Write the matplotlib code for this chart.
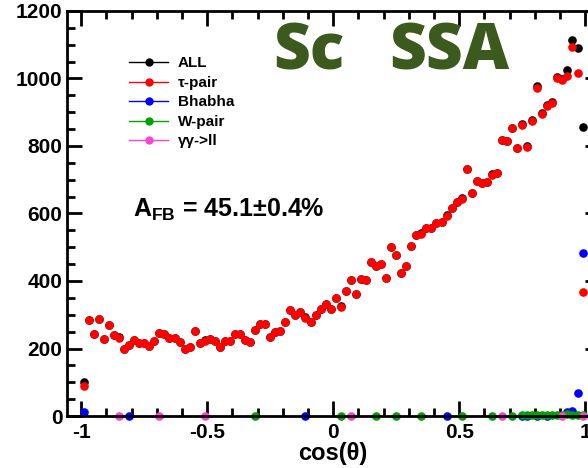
import numpy as np
import matplotlib
matplotlib.use("Agg")
import matplotlib.pyplot as plt
from matplotlib.lines import Line2D
from matplotlib.ticker import MultipleLocator

plt.rcParams['font.family'] = ['Liberation Sans', 'DejaVu Sans']
plt.rcParams['font.weight'] = 'bold'
plt.rcParams['mathtext.fontset'] = 'custom'
plt.rcParams['mathtext.rm'] = 'Liberation Sans:bold'
plt.rcParams['mathtext.bf'] = 'Liberation Sans:bold'

# 100 bins in cos(theta), width 0.02
bin_centers = np.arange(-0.99, 1.0, 0.02)

tau_counts = [
    90, 283, 242, 288, 229, 269, 240, 232, 198, 209,
    225, 217, 216, 207, 221, 245, 244, 230, 232, 218,
    198, 203, 253, 216, 223, 228, 221, 204, 222, 222,
    242, 244, 225, 218, 255, 272, 272, 234, 249, 253,
    278, 313, 298, 309, 291, 278, 299, 318, 333, 316,
    350, 324, 370, 402, 362, 407, 402, 455, 443, 451,
    410, 500, 476, 423, 443, 505, 537, 540, 556, 556,
    571, 576, 594, 617, 635, 644, 732, 662, 696, 691,
    693, 715, 719, 817, 815, 852, 795, 862, 797, 874,
    973, 896, 918, 928, 1000, 995, 1007, 1094, 1017, 367,
]

# background channels: only the filled bins
bhabha_bins = [0, 9, 44, 72, 87, 88, 90, 92, 96, 97, 98, 99]
bhabha_counts = [11, 1, 1, 1, 1, 1, 1, 1, 12, 15, 68, 484]

wpair_bins = [34, 51, 58, 62, 67, 75, 81, 85, 87, 88, 89, 90, 91, 92, 93, 94, 95, 96, 97, 98, 99]
wpair_counts = [1, 1, 1, 1, 1, 1, 1, 1, 2, 2, 2, 3, 2, 3, 3, 4, 3, 5, 4, 4, 3]

gg_bins = [7, 15, 24, 53, 83, 95, 99]
gg_counts = [1, 1, 1, 1, 1, 1, 1]


def fill(bins, counts):
    h = np.zeros(len(bin_centers))
    h[bins] = counts
    return h


tau = np.array(tau_counts, dtype=float)
bhabha = fill(bhabha_bins, bhabha_counts)
wpair = fill(wpair_bins, wpair_counts)
gg = fill(gg_bins, gg_counts)
total = tau + bhabha + wpair + gg

series = [
    ("ALL", total, "black"),
    ("\u03c4-pair", tau, "#ff0000"),
    ("Bhabha", bhabha, "#0000ff"),
    ("W-pair", wpair, "#00a000"),
    ("\u03b3\u03b3->ll", gg, "#ff44cc"),
]

W, H = 588, 468
fig = plt.figure(figsize=(W / 100, H / 100), dpi=100)
# right frame edge sits just past the picture border
ax = fig.add_axes([66.7 / W, 52 / H, 533 / W, 405 / H])

handles = []
for label, h, color in series:
    keep = h > 0
    ax.plot(bin_centers[keep], h[keep], 'o', color=color, markersize=6.2,
            markeredgewidth=0, clip_on=False)
    handles.append(Line2D([], [], color=color, lw=1, marker='o',
                          markersize=6, markeredgewidth=0))

ax.set_xlim(-1.058, 1.058)
ax.set_ylim(0, 1200)
ax.xaxis.set_major_locator(MultipleLocator(0.5))
ax.xaxis.set_minor_locator(MultipleLocator(0.1))
ax.yaxis.set_major_locator(MultipleLocator(200))
ax.yaxis.set_minor_locator(MultipleLocator(50))
ax.set_xticks([-1, -0.5, 0, 0.5, 1])
ax.set_xticklabels(['-1', '-0.5', '0', '0.5', '1'])
ax.tick_params(which='both', direction='in', top=True, right=True, width=2,
               labelsize=15)
ax.tick_params(which='major', length=11)
ax.tick_params(which='minor', length=6)
ax.tick_params(axis='y', pad=3)
ax.tick_params(axis='x', pad=5)
for s in ax.spines.values():
    s.set_linewidth(2)

ax.set_xlabel("cos(\u03b8)", fontsize=17, fontweight='bold', labelpad=0)

leg = ax.legend(handles, [s[0] for s in series], loc='upper left',
                bbox_to_anchor=(0.105, 0.903), frameon=False, fontsize=11,
                handlelength=2.6, handletextpad=0.6, labelspacing=0.36,
                borderaxespad=0)

ax.text(0.125, 0.508, "A$_{\\mathrm{FB}}$ = 45.1\u00b10.4%", transform=ax.transAxes,
        fontsize=18, fontweight='bold', va='center')

for word, xc in (("Sc", 309), ("SSA", 449)):
    fig.text(xc / W, 1 - 52 / H, word, family='Open Sans', fontsize=46,
             fontweight='heavy', color='#3c5a1e', ha='center', va='center')

fig.savefig('out.png', dpi=100, facecolor='white')
